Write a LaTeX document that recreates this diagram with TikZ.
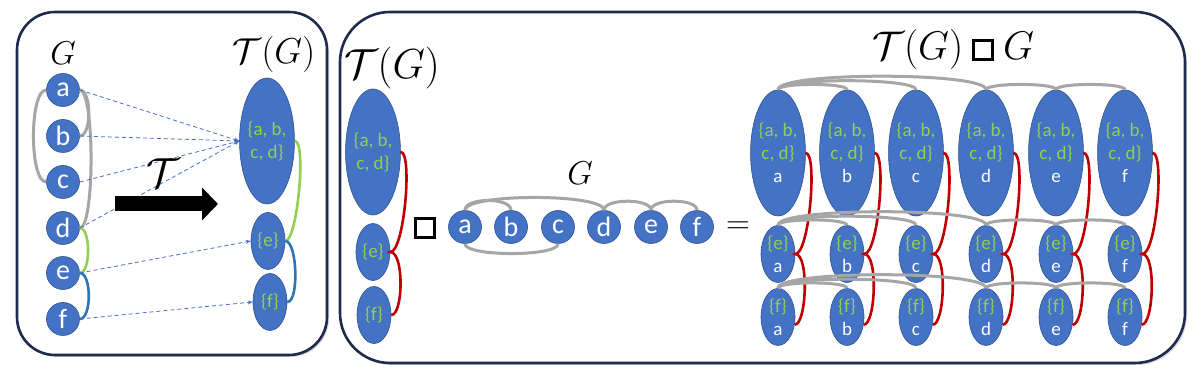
\RequirePackage{fix-cm}
\documentclass[tikz,border=0pt]{standalone}
\usepackage{amsmath,amssymb}
\usepackage{xcolor}
\usepackage{fontspec}
\setmainfont{Carlito}
\usepackage{tikz}
\usetikzlibrary{arrows.meta,positioning,shapes.geometric,shadows}
\definecolor{nodeblue}{HTML}{4472C4}
\definecolor{nodeline}{HTML}{2F528F}
\definecolor{baglbl}{HTML}{92D050}
\definecolor{edgegray}{HTML}{A6A6A6}
\definecolor{edgered}{HTML}{C00000}
\definecolor{edgeblue}{HTML}{2E75B6}
\definecolor{edgegreen}{HTML}{92D050}
\definecolor{panelline}{HTML}{1F2B4C}
\newcommand{\boxprod}{\mathbin{\vcenter{\hbox{\setlength{\fboxrule}{3pt}\setlength{\fboxsep}{0pt}\fbox{\rule{0pt}{16pt}\hspace{16pt}}}}}}

\begin{document}
\begin{tikzpicture}[x=1pt, y=1pt,
  panelbox/.style={draw=panelline, fill=white, line width=2.6pt,
    drop shadow={shadow xshift=2pt, shadow yshift=-2pt, opacity=.3, fill=gray}},
  vert/.style={circle, fill=nodeblue, draw=nodeline, line width=.6pt, minimum size=33pt,
    inner sep=0pt, text=white, font=\fontsize{28}{28}\selectfont},
  bag/.style={ellipse, fill=nodeblue, draw=nodeline, line width=.6pt, inner sep=0pt,
    align=center, text=baglbl, font=\fontsize{19}{23}\selectfont},
  bigbag/.style={bag, minimum width=45pt, minimum height=126pt},
  smallbag/.style={bag, minimum width=34pt, minimum height=57pt},
  mlbl/.style={inner sep=0pt},
  gedge/.style={draw=edgegray, line width=3pt},
  redge/.style={draw=edgered, line width=2.6pt},
  grnedge/.style={draw=edgegreen, line width=2.6pt},
  bluedge/.style={draw=edgeblue, line width=2.6pt},
  dasharr/.style={draw=nodeblue, dash pattern=on 4pt off 3pt, line width=.8pt, -{Stealth[length=5pt,width=4pt]}},
  bigarr/.style={line width=15pt, -{Triangle[length=16pt,width=32pt]}}
]
\fill[white] (0,0) rectangle (1200,387);
\useasboundingbox (0,0) rectangle (1200,387);

\draw[panelbox, rounded corners=38pt] (17,32) rectangle (327,375);
\draw[panelbox, rounded corners=50pt] (340,24) rectangle (1185,375);

% G and its tree decomposition
\node[mlbl, font=\fontsize{33}{33}\selectfont] (lblG) at (63,334) {$G$};
\node[mlbl, font=\fontsize{36}{36}\selectfont] (lblTG) at (274,332) {$\mathcal{T}(G)$};
\foreach \v/\y in {a/297,b/251,c/205,d/159,e/114,f/68}
  \node[vert] (L\v) at (63,\y) {\v};
\node[bigbag] (Tabcd) at (267,246) {\{a, b,\\c, d\}};
\node[smallbag] (Te) at (268,146) {\{e\}};
\node[smallbag] (Tf) at (270,85) {\{f\}};

\draw[gedge] (La.west) .. controls +(-17,0) and +(-17,0) .. (Lc.west);
\draw[gedge] (La.east) .. controls +(15,0) and +(15,0) .. (Ld.east);
\draw[gedge] (La.east) .. controls +(12,0) and +(12,0) .. (Lb.east);
\draw[grnedge] (Ld.east) .. controls +(11,0) and +(11,0) .. (Le.east);
\draw[bluedge] (Le.east) .. controls +(12,0) and +(12,0) .. (Lf.east);
\draw[grnedge] (Tabcd.east) .. controls +(12,0) and +(12,0) .. (Te.east);
\draw[bluedge] (Te.east) .. controls +(12,0) and +(12,0) .. (Tf.east);

\foreach \v in {a,b,c,d}
  \draw[dasharr] (L\v.east) -- (Tabcd.west);
\draw[dasharr] (Le.east) -- (Te.west);
\draw[dasharr] (Lf.east) -- (Tf.west);

\coordinate (arrS) at (115,183);
\coordinate (arrE) at (218,183);
\draw[bigarr] (arrS) -- (arrE);
\node[mlbl, font=\fontsize{42}{42}\selectfont] (lblT) at (163,214) {$\mathcal{T}$};

% product
\node[mlbl, font=\fontsize{42}{42}\selectfont] (lblTG2) at (392,319) {$\mathcal{T}(G)$};
\node[bigbag] (Babcd) at (373,235) {\{a, b,\\c, d\}};
\node[smallbag] (Be) at (373,135) {\{e\}};
\node[smallbag] (Bf) at (374,72) {\{f\}};
\draw[redge] (Babcd.east) .. controls +(12,0) and +(14,0) .. (Be.east)
  .. controls +(14,0) and +(12,0) .. (Bf.east);
\node[mlbl, font=\fontsize{33}{33}\selectfont] (opbox) at (425,159) {$\boxprod$};

\node[mlbl, font=\fontsize{33}{33}\selectfont] (lblG2) at (580,214) {$G$};
\foreach \v/\x in {a/465,b/511,c/558,d/604,e/651,f/697}
  \node[vert] (G\v) at (\x,160) {\v};
\draw[gedge] (Ga.north) .. controls +(0,17) and +(0,17) .. (Gd.north);
\draw[gedge] (Ga.north) .. controls +(0,13) and +(0,13) .. (Gb.north);
\draw[gedge] (Gd.north) .. controls +(0,12) and +(0,12) .. (Ge.north);
\draw[gedge] (Ge.north) .. controls +(0,12) and +(0,12) .. (Gf.north);
\draw[gedge] (Ga.south) .. controls +(0,-13) and +(0,-13) .. (Gc.south);

\node[mlbl, font=\fontsize{33}{33}\selectfont] (opeq) at (738,159) {$=$};

\node[mlbl, font=\fontsize{40}{40}\selectfont] (lblProd) at (953,337) {$\mathcal{T}(G)\boxprod G$};
\foreach \v/\x in {a/778,b/847,c/916,d/986,e/1056,f/1125} {
  \node[bigbag] (P1\v) at (\x,234) {\{a, b,\\c, d\}\\\textcolor{white}{\v}};
  \node[smallbag] (P2\v) at (\x,133) {\{e\}\\\textcolor{white}{\v}};
  \node[smallbag] (P3\v) at (\x,70) {\{f\}\\\textcolor{white}{\v}};
  \draw[redge] (P1\v.east) .. controls +(12,0) and +(14,0) .. (P2\v.east)
    .. controls +(14,0) and +(12,0) .. (P3\v.-25);
}
\foreach \row in {1,2,3} {
  \draw[gedge] (P\row a.north) .. controls +(0,18) and +(0,18) .. (P\row d.north);
  \draw[gedge] (P\row a.north) .. controls +(0,12) and +(0,12) .. (P\row c.north);
  \draw[gedge] (P\row a.north) .. controls +(0,7) and +(0,7) .. (P\row b.north);
  \draw[gedge] (P\row d.north) .. controls +(0,7) and +(0,7) .. (P\row e.north);
  \draw[gedge] (P\row e.north) .. controls +(0,7) and +(0,7) .. (P\row f.north);
}
\end{tikzpicture}
\end{document}
